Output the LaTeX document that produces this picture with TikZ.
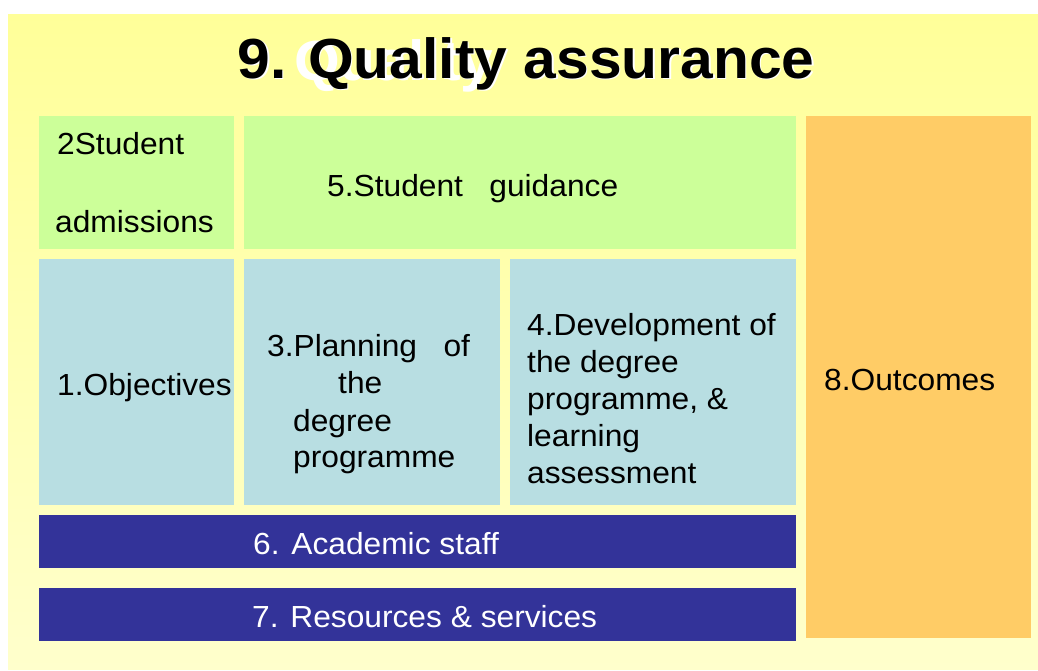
\documentclass[tikz,border=0pt]{standalone}
\usepackage{fontspec}
\setmainfont{Liberation Sans}[FakeStretch=1.04]
\usetikzlibrary{positioning}

\definecolor{panelTop}{HTML}{FFFF99}
\definecolor{panelBot}{HTML}{FFFFCC}
\definecolor{boxGreen}{HTML}{CCFF99}
\definecolor{boxBlue}{HTML}{B8DEE2}
\definecolor{boxOrange}{HTML}{FFCC66}
\definecolor{boxNavy}{HTML}{333399}

\begin{document}
\begin{tikzpicture}[
    x=1pt, y=-1pt,
    box/.style={rectangle, anchor=north west, inner sep=0pt, outer sep=0pt},
    txt/.style={anchor=base west, inner sep=0pt, font=\fontsize{30.5}{36}\selectfont},
    headline/.style={inner sep=0pt, font=\fontsize{56.5}{62}\selectfont\bfseries}
]
    \useasboundingbox (0,0) rectangle (1038,670);
    \fill[white] (0,0) rectangle (1038,670);

    % Yellow panel
    \shade[top color=panelTop, bottom color=panelBot] (8,14) rectangle (1038,669);

    % Title (white ghost and shadow behind the black text)
    \node[headline, anchor=base west, white] (ghost) at (294, 80) {Quality};
    \node[headline, anchor=base, white] (titleShadow) at (527.5, 79.5) {9. Quality assurance};
    \node[headline, anchor=base] (title) at (526, 78) {9. Quality assurance};

    % Boxes
    \node[box, fill=boxGreen, minimum width=195pt, minimum height=133pt] (adm) at (39, 116) {};
    \node[box, fill=boxGreen, minimum width=552pt, minimum height=133pt] (guid) at (244, 116) {};
    \node[box, fill=boxBlue, minimum width=195pt, minimum height=246pt] (obj) at (39, 259) {};
    \node[box, fill=boxBlue, minimum width=256pt, minimum height=246pt] (plan) at (244, 259) {};
    \node[box, fill=boxBlue, minimum width=286pt, minimum height=246pt] (dev) at (510, 259) {};
    \node[box, fill=boxOrange, minimum width=225pt, minimum height=522pt] (outc) at (806, 116) {};
    \node[box, fill=boxNavy, minimum width=757pt, minimum height=53pt] (staff) at (39, 515) {};
    \node[box, fill=boxNavy, minimum width=757pt, minimum height=53pt] (res) at (39, 588) {};

    % Box texts
    \node[txt] (admA) at (57, 154) {2Student};
    \node[txt] (admB) at (55, 232) {admissions};
    \node[txt] (guidT) at (327, 196) {5.Student\ \ \ guidance};
    \node[txt] (objT) at (57, 395) {1.Objectives};

    \node[txt] (planA) at (267, 356) {3.Planning\ \ \ of};
    \node[txt] (planB) at (338, 393) {the};
    \node[txt] (planC) at (293, 431) {degree};
    \node[txt] (planD) at (293, 467) {programme};

    \foreach \ln [count=\i] in {4.Development of, the degree, {programme, \&}, learning, assessment}
        \node[txt] (devT-\i) at (527, 299+36.8*\i) {\ln};

    \node[txt] (outcT) at (824, 390) {8.Outcomes};
    \node[txt, white] (staffT) at (253, 554) {6. Academic staff};
    \node[txt, white] (resT) at (252, 627) {7. Resources \& services};

\end{tikzpicture}
\end{document}
